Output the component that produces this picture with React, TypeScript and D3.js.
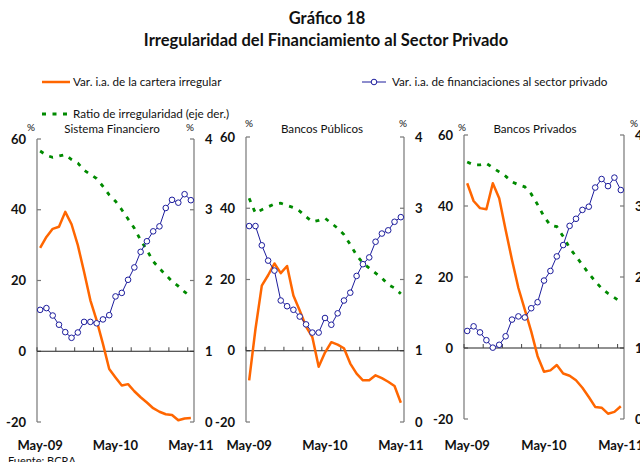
import React from "react";
import * as d3 from "d3";

const months = [
  "May-09","Jun-09","Jul-09","Ago-09","Sep-09","Oct-09","Nov-09","Dic-09",
  "Ene-10","Feb-10","Mar-10","Abr-10","May-10","Jun-10","Jul-10","Ago-10",
  "Sep-10","Oct-10","Nov-10","Dic-10","Ene-11","Feb-11","Mar-11","Abr-11","May-11",
];
const xTickLabels = ["May-09", "May-10", "May-11"];
const leftTicks = [60, 40, 20, 0, -20];
const rightTicks = [4, 3, 2, 1, 0];

const panelTitles = ["Sistema Financiero", "Bancos Públicos", "Bancos Privados"];

// Sistema Financiero
const sfCartera = [29.2,32.3,34.6,35.2,39.4,35.9,30.0,22.4,14.4,8.7,2.1,-5.0,-7.4,-9.7,-9.3,-11.3,-13.0,-14.5,-16.1,-17.1,-17.8,-18.0,-19.5,-19.0,-18.9];
const sfFinanc = [11.7,12.2,10.1,7.5,5.4,3.8,5.3,8.3,8.3,7.9,9.0,10.2,15.5,16.5,20.2,23.7,28.1,31.1,33.9,35.3,40.5,42.8,42.0,44.4,42.7];
const sfRatio = [3.83,3.77,3.74,3.76,3.78,3.71,3.66,3.56,3.50,3.44,3.33,3.21,3.12,3.00,2.87,2.74,2.57,2.43,2.27,2.17,2.08,1.99,1.92,1.84,1.77];

// Bancos Públicos
const bpuCartera = [-8.3,6.1,18.3,21.2,24.5,21.8,23.8,15.5,11.3,6.8,3.8,-4.5,-0.5,2.4,1.7,0.7,-3.6,-6.4,-8.3,-8.3,-6.9,-7.7,-8.7,-9.9,-14.6];
const bpuFinanc = [35.0,35.0,29.6,25.3,22.5,14.1,12.5,11.5,9.6,7.4,5.1,5.1,9.2,7.3,10.5,14.1,16.3,21.0,24.3,26.2,30.6,32.9,33.8,36.2,37.5];
const bpuRatio = [3.14,2.93,2.98,3.02,3.06,3.07,3.04,3.01,2.96,2.88,2.81,2.83,2.86,2.79,2.72,2.63,2.49,2.34,2.23,2.16,2.09,2.02,1.93,1.88,1.80];

// Bancos Privados
const bprCartera = [46.4,41.4,39.4,39.1,46.4,42.2,33.3,24.8,16.9,10.8,4.7,-2.3,-6.7,-6.3,-4.8,-7.2,-7.8,-9.1,-11.2,-13.8,-16.6,-16.8,-18.5,-18.0,-16.4];
const bprFinanc = [4.8,6.1,4.4,2.2,0.1,0.9,3.3,8.0,8.9,8.6,11.2,12.9,19.0,21.7,25.8,29.0,34.4,36.4,38.9,39.8,45.2,47.6,45.6,48.0,44.5];
const bprRatio = [3.62,3.58,3.58,3.60,3.54,3.48,3.42,3.34,3.30,3.27,3.17,3.02,2.85,2.73,2.71,2.57,2.41,2.29,2.17,2.05,1.94,1.84,1.77,1.71,1.65];

const carteraSeries = [sfCartera, bpuCartera, bprCartera];
const financSeries = [sfFinanc, bpuFinanc, bprFinanc];
const ratioSeries = [sfRatio, bpuRatio, bprRatio];

const ORANGE = "#ff6600";
const BLUE = "#1c1c9c";
const GREEN = "#008a00";
const AXIS = "#777";
const FONT = "Lato, 'Open Sans', sans-serif";

const layouts = [
  { xL: 37, xR: 194, yT: 139, yB: 422, pctL: [31, 129], pctR: [190, 129], titleX: 112 },
  { xL: 246, xR: 404, yT: 137, yB: 422, pctL: [249, 125], pctR: [403, 125], titleX: 322 },
  { xL: 464, xR: 624, yT: 135, yB: 419, pctL: [462, 129], pctR: [634, 125], titleX: 535 },
];

function Panel({ idx }: { idx: number }) {
  const L = layouts[idx];
  const x = d3.scaleBand<string>().domain(months).range([L.xL, L.xR]).padding(0);
  const bw = x.bandwidth();
  const cx = (i: number) => (x(months[i]) as number) + bw / 2;
  const y = d3.scaleLinear().domain([-20, 60]).range([L.yB, L.yT]);
  const y2 = d3.scaleLinear().domain([0, 4]).range([L.yB, L.yT]);

  const lineL = d3.line<number>().x((_, i) => cx(i)).y((d) => y(d));
  const lineR = d3.line<number>().x((_, i) => cx(i)).y((d) => y2(d));

  const fin = financSeries[idx];
  const tickIdx = d3.range(0, 25, 3);

  return (
    <g>
      <text x={L.titleX} y={133} textAnchor="middle" fontSize={11.6} fontFamily={FONT} fill="#111">
        {panelTitles[idx]}
      </text>
      <text x={L.pctL[0]} y={L.pctL[1] + 2} textAnchor="middle" fontSize={10} fontFamily={FONT} fill="#111">%</text>
      <text x={L.pctR[0]} y={L.pctR[1] + 2} textAnchor="middle" fontSize={10} fontFamily={FONT} fill="#111">%</text>

      <line x1={L.xL} x2={L.xL} y1={L.yT} y2={L.yB} stroke={AXIS} strokeWidth={1.2} />
      <line x1={L.xR} x2={L.xR} y1={L.yT} y2={L.yB} stroke={AXIS} strokeWidth={1.2} />
      {leftTicks.map((t) => (
        <g key={"l" + t}>
          <line x1={L.xL} x2={L.xL + 4} y1={y(t)} y2={y(t)} stroke={AXIS} strokeWidth={1.2} />
          <text x={L.xL - 11} y={y(t)} dy="0.35em" textAnchor="end" fontSize={13} fontWeight="bold" fontFamily={FONT} fill="#111">
            {t}
          </text>
        </g>
      ))}
      {rightTicks.map((t) => (
        <g key={"r" + t}>
          <line x1={L.xR - 4} x2={L.xR} y1={y2(t)} y2={y2(t)} stroke={AXIS} strokeWidth={1.2} />
          <text x={L.xR + 11} y={y2(t)} dy="0.35em" textAnchor="start" fontSize={13} fontWeight="bold" fontFamily={FONT} fill="#111">
            {t}
          </text>
        </g>
      ))}
      <line x1={L.xL} x2={L.xR} y1={y(0)} y2={y(0)} stroke="#222" strokeWidth={1} />
      {tickIdx.map((i) => (
        <line key={"xt" + i} x1={(x(months[i]) as number)} x2={(x(months[i]) as number)} y1={y(0)} y2={y(0) - 4} stroke="#444" strokeWidth={1} />
      ))}
      {xTickLabels.map((lab) => (
        <text key={lab} x={cx(months.indexOf(lab))} y={450} textAnchor="middle" fontSize={13} fontWeight="bold" fontFamily={FONT} fill="#111">
          {lab}
        </text>
      ))}

      <path d={lineR(ratioSeries[idx]) || ""} fill="none" stroke={GREEN} strokeWidth={2.8} strokeDasharray="4,6.5" />
      <path d={lineL(carteraSeries[idx]) || ""} fill="none" stroke={ORANGE} strokeWidth={2.5} strokeLinejoin="round" />
      <path d={lineL(fin) || ""} fill="none" stroke={BLUE} strokeWidth={1} />
      {fin.map((v, i) => (
        <circle key={"c" + i} cx={cx(i)} cy={y(v)} r={2.8} fill="#fff" stroke={BLUE} strokeWidth={1} />
      ))}
    </g>
  );
}

export default function App() {
  return (
    <svg width={640} height={462} style={{ position: "absolute", left: 0, top: 0, background: "#fff" }}>
      <rect width={640} height={462} fill="#fff" />
      <text x={327} y={24} textAnchor="middle" fontSize={16.5} fontWeight="bold" fontFamily={FONT} fill="#111">
        Gráfico 18
      </text>
      <text x={326} y={46} textAnchor="middle" fontSize={16.5} fontWeight="bold" fontFamily={FONT} fill="#111">
        Irregularidad del Financiamiento al Sector Privado
      </text>

      <line x1={42} x2={70} y1={82} y2={82} stroke={ORANGE} strokeWidth={2.5} />
      <text x={73} y={86} fontSize={11.7} fontFamily={FONT} fill="#111">Var. i.a. de la cartera irregular</text>
      <line x1={362} x2={386} y1={82} y2={82} stroke={BLUE} strokeWidth={1} />
      <circle cx={374} cy={82} r={2.8} fill="#fff" stroke={BLUE} strokeWidth={1} />
      <text x={392} y={86} fontSize={11.7} fontFamily={FONT} fill="#111">Var. i.a. de financiaciones al sector privado</text>
      <line x1={42} x2={72} y1={114} y2={114} stroke={GREEN} strokeWidth={2.8} strokeDasharray="4,6.5" />
      <text x={73} y={118} fontSize={11.7} fontFamily={FONT} fill="#111">Ratio de irregularidad (eje der.)</text>

      {[0, 1, 2].map((i) => (
        <Panel key={i} idx={i} />
      ))}

      <text x={8} y={465} fontSize={11} fontFamily={FONT} fill="#111">Fuente: BCRA</text>
    </svg>
  );
}
